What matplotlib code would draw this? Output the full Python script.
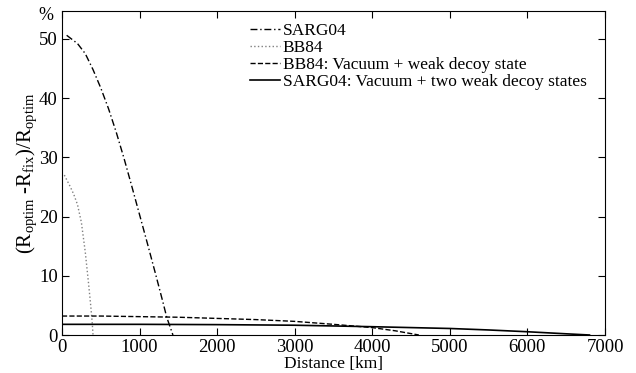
import matplotlib
matplotlib.use("Agg")
import matplotlib.pyplot as plt

plt.rcParams['font.family'] = ['Liberation Serif', 'DejaVu Serif']
plt.rcParams['mathtext.fontset'] = 'custom'
plt.rcParams['mathtext.rm'] = 'Liberation Serif'
plt.rcParams['mathtext.it'] = 'Liberation Serif'

# SARG04 (no decoy)
sarg_x = [60, 200, 300, 400, 500, 600, 700, 800, 900, 1000, 1100, 1200, 1300, 1350, 1430]
sarg_y = [50.6, 49.2, 47.5, 44.8, 41.7, 38.2, 34.2, 29.8, 25.1, 20.3, 15.5, 10.6, 5.6, 3.0, 0.0]

# BB84 (no decoy)
bb_x = [30, 100, 150, 200, 250, 300, 340, 370, 390, 400]
bb_y = [27.0, 25.2, 23.8, 22.0, 19.0, 14.0, 9.0, 5.0, 2.0, 0.0]

# BB84: vacuum + weak decoy
bbd_x = [0, 500, 1000, 1500, 2000, 2500, 3000, 3500, 4000, 4300, 4600]
bbd_y = [3.2, 3.2, 3.1, 3.0, 2.8, 2.6, 2.3, 1.8, 1.25, 0.7, 0.0]

# SARG04: vacuum + two weak decoys
sd_x = [0, 1000, 2000, 3000, 4000, 5000, 5500, 6000, 6500, 6800]
sd_y = [1.8, 1.8, 1.75, 1.65, 1.4, 1.1, 0.85, 0.55, 0.2, 0.0]

fig = plt.figure(figsize=(6.36, 3.73), dpi=100)
ax = fig.add_axes([62/636, 38/373, 543/636, 324/373])

ax.plot(sarg_x, sarg_y, color='black', linestyle=(0, (5, 2, 1, 2)), linewidth=1.0, label='SARG04')
ax.plot(bb_x, bb_y, color='gray', linestyle=':', linewidth=1.0, label='BB84')
ax.plot(bbd_x, bbd_y, color='black', linestyle='--', linewidth=1.0, label='BB84: Vacuum + weak decoy state')
ax.plot(sd_x, sd_y, color='black', linestyle='-', linewidth=1.2, label='SARG04: Vacuum + two weak decoy states')

ax.set_xlim(0, 7000)
ax.set_ylim(0, 54.7)
ax.set_xticks(range(0, 7001, 1000))
ax.set_yticks([0, 10, 20, 30, 40, 50])
ax.tick_params(direction='in', top=True, right=True, labelsize=13.5, length=5)
ax.tick_params(axis='x', pad=3)
ax.tick_params(axis='y', pad=3)
ax.set_xlabel('Distance [km]', fontsize=12.5, labelpad=0)
ax.set_ylabel(r'(R$_{\rm optim}$ -R$_{\rm fix}$)/R$_{\rm optim}$', fontsize=15, labelpad=0)
ax.text(-0.03, 0.985, '%', transform=ax.transAxes, fontsize=13, ha='center', va='center')

ax.legend(loc='upper right', frameon=False, fontsize=12.5, handlelength=1.7,
          handletextpad=0.15, labelspacing=0.05, borderaxespad=0.2,
          bbox_to_anchor=(0.985, 0.995))

fig.savefig('out.png', dpi=100)
